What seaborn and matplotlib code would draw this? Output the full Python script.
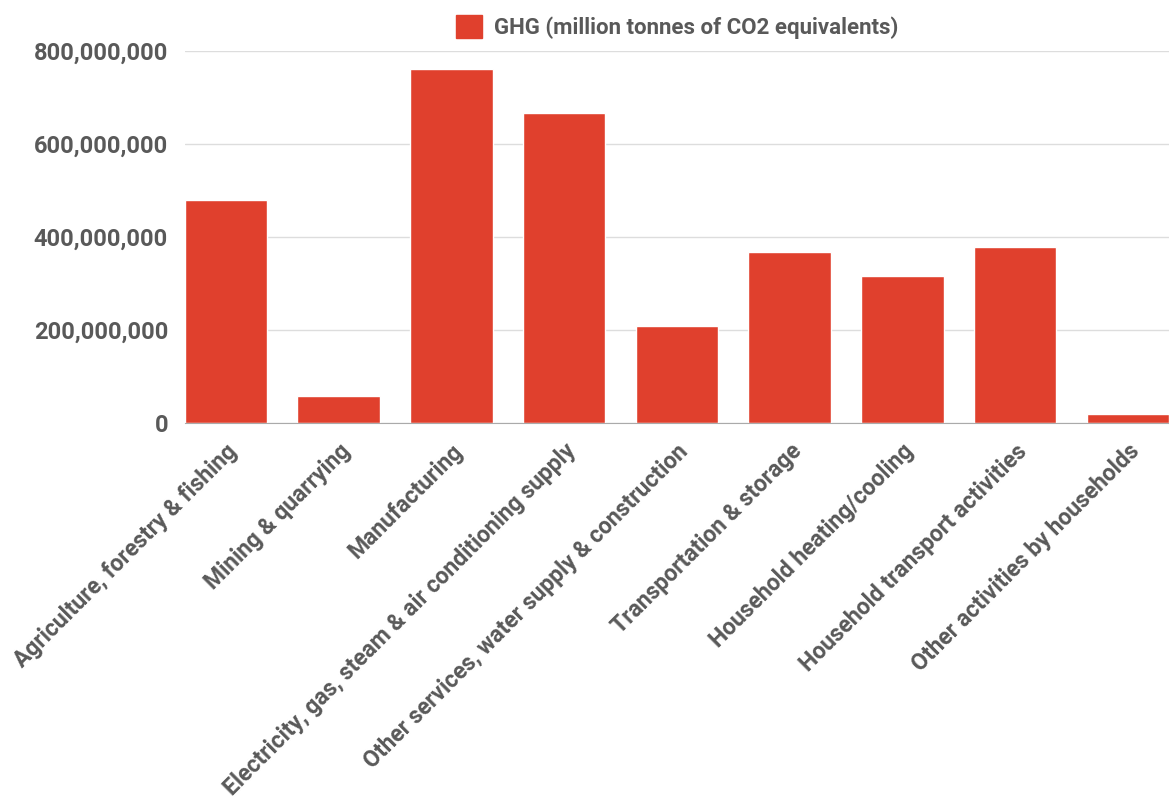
import pandas as pd
import seaborn as sns
import matplotlib.pyplot as plt
from matplotlib.ticker import FuncFormatter
from matplotlib.patches import Patch

# sectors and their greenhouse gas emissions
sectors = [
    'Agriculture, forestry & fishing',
    'Mining & quarrying',
    'Manufacturing',
    'Electricity, gas, steam & air conditioning supply',
    'Other services, water supply & construction',
    'Transportation & storage',
    'Household heating/cooling',
    'Household transport activities',
    'Other activities by households',
]
ghg = [479e6, 58e6, 761e6, 666e6, 209e6, 368e6, 316e6, 378e6, 20e6]
yticks = [0, 200e6, 400e6, 600e6, 800e6]
legend_label = 'GHG (million tonnes of CO2 equivalents)'

df = pd.DataFrame({'sector': sectors, 'ghg': ghg})

sns.set_style('white')
plt.rcParams['font.family'] = ['Roboto', 'DejaVu Sans']
red = '#E0402D'
grey = '#595959'

fig = plt.figure(figsize=(11.69, 7.98), dpi=100)
ax = fig.add_axes([0.158, 0.470, 0.842, 0.4665])
sns.barplot(data=df, x='sector', y='ghg', color=red, width=0.73,
            saturation=1, ax=ax)

ax.set_xlim(-0.365, len(sectors) - 1 + 0.365)
ax.set_ylim(0, 800e6)
ax.set_yticks(yticks)
ax.yaxis.set_major_formatter(FuncFormatter(lambda v, p: f'{int(v):,}'))
ax.grid(axis='y', color='#dddddd', linewidth=1)
ax.set_axisbelow(True)
for s in ['top', 'right', 'left']:
    ax.spines[s].set_visible(False)
ax.spines['bottom'].set_color('#aaaaaa')
ax.tick_params(axis='both', length=0, colors=grey)
ax.tick_params(axis='y', pad=12, labelsize=17)
ax.tick_params(axis='x', pad=12, labelsize=16.5)
for lab in ax.get_yticklabels():
    lab.set_fontweight('bold')
plt.setp(ax.get_xticklabels(), rotation=45, ha='right',
         rotation_mode='anchor', fontweight='bold')
ax.set_xlabel('')
ax.set_ylabel('')

ax.legend(handles=[Patch(color=red)], labels=[legend_label],
          loc='center', bbox_to_anchor=(0.5, 1.063), frameon=False,
          prop={'weight': 'bold', 'size': 16}, labelcolor=grey,
          handlelength=1.2, handleheight=1.2, handletextpad=0.5)

fig.savefig('out.png', dpi=100)
